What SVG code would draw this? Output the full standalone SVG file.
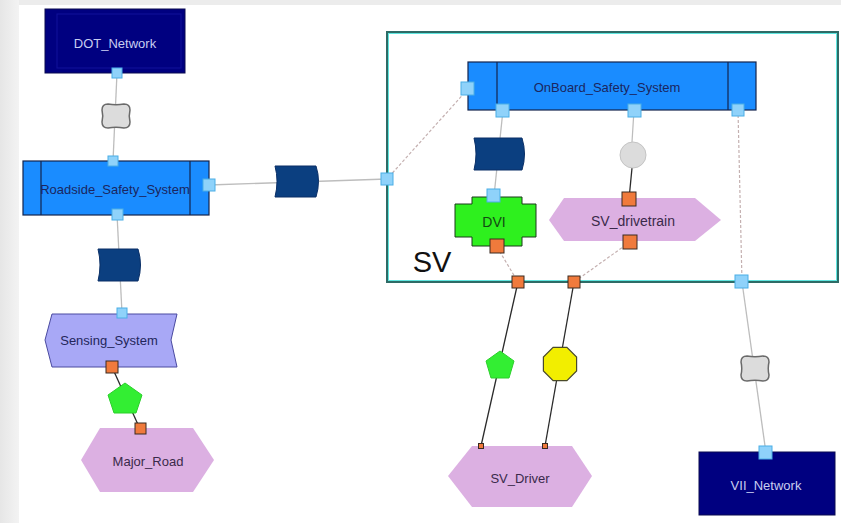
<svg xmlns="http://www.w3.org/2000/svg" width="841" height="523" viewBox="0 0 841 523">
  <defs>
    <linearGradient id="edge" x1="0" y1="0" x2="1" y2="0">
      <stop offset="0" stop-color="#e6e6e6"/>
      <stop offset="1" stop-color="#f3f3f3"/>
    </linearGradient>
    <style>
      text { font-family: "Liberation Sans", Arial, sans-serif; text-anchor: middle; dominant-baseline: central; }
      .lbl-dark { fill: #1b2660; font-size: 13px; }
      .lbl-light { fill: #c8cdf0; font-size: 13px; }
      .lbl-plain { fill: #3a2a4a; font-size: 13px; }
      .navy { fill: #000080; stroke: #0a0a50; stroke-width: 1; }
      .navy-inner { fill: none; stroke: #10109a; stroke-width: 1; }
      .block { fill: #1a8cff; stroke: #13244d; stroke-width: 1.2; }
      .divider { stroke: #13244d; stroke-width: 1.2; }
      .hex { fill: #dcb0e2; stroke: none; }
      .sense { fill: #a8a8f6; stroke: #4a4aa0; stroke-width: 1; }
      .flow { fill: #0b3f80; stroke: #0a2f66; stroke-width: 1; }
      .can { fill: #dcdcdc; stroke: #6a6a6a; stroke-width: 1.5; }
      .port-b { fill: #8fd2fa; stroke: #4aaee6; stroke-width: 1; }
      .port-o { fill: #f07a3c; stroke: #3a2a20; stroke-width: 1; }
      .port-s { fill: #f07a3c; stroke: #3a2a20; stroke-width: 1; }
      .wire { stroke: #bdbdbd; stroke-width: 1.3; fill: none; }
      .dash { stroke: #c4b0b0; stroke-width: 1.2; fill: none; stroke-dasharray: 3 2; }
      .hard { stroke: #2a2a2a; stroke-width: 1.3; fill: none; }
    </style>
  </defs>

  <!-- page background -->
  <rect x="0" y="0" width="841" height="523" fill="#ffffff"/>
  <rect x="0" y="0" width="841" height="5" fill="#ececec"/>
  <rect x="0" y="0" width="19" height="523" fill="url(#edge)"/>

  <!-- SV container -->
  <g id="SV">
    <rect x="387" y="32" width="451" height="250" fill="none" stroke="#2e6b66" stroke-width="2"/>
    <rect x="388.5" y="33.5" width="448" height="247" fill="none" stroke="#5fe6e0" stroke-width="1"/>
    <text x="432" y="262" style="font-size:29px; fill:#111;">SV</text>
  </g>

  <!-- connectors -->
  <g id="connectors">
    <line class="wire" x1="117" y1="73" x2="113" y2="161"/>
    <line class="wire" x1="117" y1="214" x2="122" y2="313"/>
    <line class="wire" x1="209" y1="185" x2="387" y2="179"/>
    <line class="dash" x1="468" y1="89" x2="387" y2="179"/>
    <line class="wire" x1="503" y1="110" x2="494" y2="196"/>
    <line class="wire" x1="634" y1="110" x2="632" y2="142"/>
    <line class="hard" x1="632" y1="168" x2="629" y2="199"/>
    <line class="dash" x1="497" y1="247" x2="518" y2="282"/>
    <line class="dash" x1="630" y1="242" x2="574" y2="282"/>
    <line class="dash" x1="738" y1="110" x2="742" y2="282"/>
    <line class="hard" x1="518" y1="282" x2="481" y2="446"/>
    <line class="hard" x1="574" y1="282" x2="545" y2="446"/>
    <line class="wire" x1="742" y1="282" x2="766" y2="453"/>
    <line class="hard" x1="112" y1="367" x2="140" y2="429"/>
  </g>

  <!-- DOT_Network -->
  <g id="DOT_Network">
    <rect class="navy" x="45" y="9" width="140" height="64"/>
    <rect class="navy-inner" x="57" y="14" width="124" height="54"/>
    <text class="lbl-light" x="115" y="43">DOT_Network</text>
    <rect class="port-b" x="112" y="68" width="10" height="10"/>
  </g>

  <!-- link between DOT_Network and Roadside_Safety_System -->
  <g id="link_dot_roadside">
    <path class="can" d="M102,110 Q102,104 108,104 Q116,105.5 124,104 Q130,104 130,110 Q128.5,116 130,122 Q130,128 124,128 Q116,126.5 108,128 Q102,128 102,122 Q103.5,116 102,110 Z"/>
  </g>

  <!-- Roadside_Safety_System -->
  <g id="Roadside_Safety_System">
    <rect class="block" x="23" y="161" width="186" height="54"/>
    <line class="divider" x1="41" y1="161" x2="41" y2="215"/>
    <line class="divider" x1="190" y1="161" x2="190" y2="215"/>
    <text class="lbl-dark" x="115" y="189">Roadside_Safety_System</text>
    <rect class="port-b" x="108" y="156" width="10" height="10"/>
    <rect class="port-b" x="203" y="179" width="12" height="12"/>
    <rect class="port-b" x="112" y="209" width="11" height="11"/>
  </g>

  <!-- flow between Roadside_Safety_System and SV -->
  <g id="flow_roadside_sv">
    <path class="flow" d="M275,166 H316 Q321,181 316,197 H275 Q279,181 275,166 Z"/>
  </g>

  <!-- flow between Roadside_Safety_System and Sensing_System -->
  <g id="flow_roadside_sensing">
    <path class="flow" d="M98,249 H138 Q143,265 138,281 H98 Q102,265 98,249 Z"/>
  </g>

  <!-- Sensing_System -->
  <g id="Sensing_System">
    <path class="sense" d="M52,314 H177 L171,340 L177,367 H52 L45,340 Z"/>
    <text class="lbl-dark" x="109" y="340" style="fill:#23265a">Sensing_System</text>
    <rect class="port-b" x="117" y="308" width="10" height="10"/>
    <rect class="port-o" x="106" y="361" width="12" height="12"/>
  </g>

  <!-- link between Sensing_System and Major_Road -->
  <g id="link_sensing_road">
    <polygon points="125,383 142,395 136,413 114,413 108,395" fill="#33ee33" stroke="#2bd02b" stroke-width="1"/>
  </g>

  <!-- Major_Road -->
  <g id="Major_Road">
    <polygon class="hex" points="81,460 100,428 193,428 214,460 193,492 100,492"/>
    <text class="lbl-plain" x="148" y="461">Major_Road</text>
    <rect class="port-o" x="135" y="423" width="11" height="11"/>
  </g>

  <!-- OnBoard_Safety_System -->
  <g id="OnBoard_Safety_System">
    <rect class="block" x="468" y="62" width="288" height="48"/>
    <line class="divider" x1="497" y1="62" x2="497" y2="110"/>
    <line class="divider" x1="728" y1="62" x2="728" y2="110"/>
    <text class="lbl-dark" x="607" y="87">OnBoard_Safety_System</text>
    <rect class="port-b" x="461" y="82" width="13" height="13"/>
    <rect class="port-b" x="496" y="104" width="13" height="13"/>
    <rect class="port-b" x="628" y="104" width="13" height="13"/>
    <rect class="port-b" x="732" y="104" width="12" height="12"/>
    <rect class="port-b" x="381" y="173" width="12" height="12"/>
  </g>

  <!-- flow between OnBoard_Safety_System and DVI -->
  <g id="flow_onboard_dvi">
    <path class="flow" d="M474,138 H522 Q527,154 522,170 H474 Q478,154 474,138 Z"/>
  </g>

  <!-- link between OnBoard_Safety_System and SV_drivetrain -->
  <g id="link_onboard_drivetrain">
    <circle cx="633" cy="155" r="13" fill="#dcdcdc" stroke="#c4c4c4" stroke-width="1"/>
  </g>

  <!-- DVI -->
  <g id="DVI">
    <path d="M472,197 H522 V204 H536 V237 H522 V246 H472 V237 H455 V204 H472 Z" fill="#2ef01e" stroke="#1a3a1a" stroke-width="1"/>
    <text x="494" y="222" style="font-size:14px; fill:#124a12;">DVI</text>
    <rect class="port-b" x="487" y="189" width="13" height="13"/>
    <rect class="port-o" x="490" y="239" width="14" height="14"/>
  </g>

  <!-- SV_drivetrain -->
  <g id="SV_drivetrain">
    <polygon class="hex" points="549,220 564,198 695,198 721,220 695,241 564,241"/>
    <text class="lbl-plain" x="633" y="221" style="font-size:14px">SV_drivetrain</text>
    <rect class="port-o" x="622" y="192" width="14" height="14"/>
    <rect class="port-o" x="623" y="235" width="14" height="14"/>
  </g>

  <!-- ports on the SV boundary -->
  <g id="SV_ports">
    <rect class="port-o" x="512" y="276" width="12" height="12"/>
    <rect class="port-o" x="568" y="276" width="12" height="12"/>
    <rect class="port-b" x="735" y="275" width="13" height="13"/>
  </g>

  <!-- links between SV and SV_Driver -->
  <g id="link_sv_driver_1">
    <polygon points="500,351 514,361 509,378 491,378 486,361" fill="#33ee33" stroke="#2bd02b" stroke-width="1"/>
  </g>
  <g id="link_sv_driver_2">
    <polygon points="576.6,357.1 576.6,370.9 566.9,380.6 553.1,380.6 543.4,370.9 543.4,357.1 553.1,347.4 566.9,347.4" fill="#f2ee00" stroke="#4a4a2a" stroke-width="1.2"/>
  </g>

  <!-- SV_Driver -->
  <g id="SV_Driver">
    <polygon class="hex" points="448,476 472,446 572,446 592,476 572,507 472,507"/>
    <text class="lbl-plain" x="520" y="478">SV_Driver</text>
    <rect class="port-s" x="478.5" y="443.5" width="5" height="5"/>
    <rect class="port-s" x="542.5" y="443.5" width="5" height="5"/>
  </g>

  <!-- link between SV and VII_Network -->
  <g id="link_sv_vii">
    <path class="can" d="M741,362 Q741,356 747,356 Q755,357.5 763,356 Q769,356 769,362 Q767.5,368.5 769,375 Q769,381 763,381 Q755,379.5 747,381 Q741,381 741,375 Q742.5,368.5 741,362 Z"/>
  </g>

  <!-- VII_Network -->
  <g id="VII_Network">
    <rect class="navy" x="699" y="452" width="136" height="63"/>
    <text class="lbl-light" x="766" y="485">VII_Network</text>
    <rect class="port-b" x="759" y="446" width="13" height="13"/>
  </g>
</svg>
